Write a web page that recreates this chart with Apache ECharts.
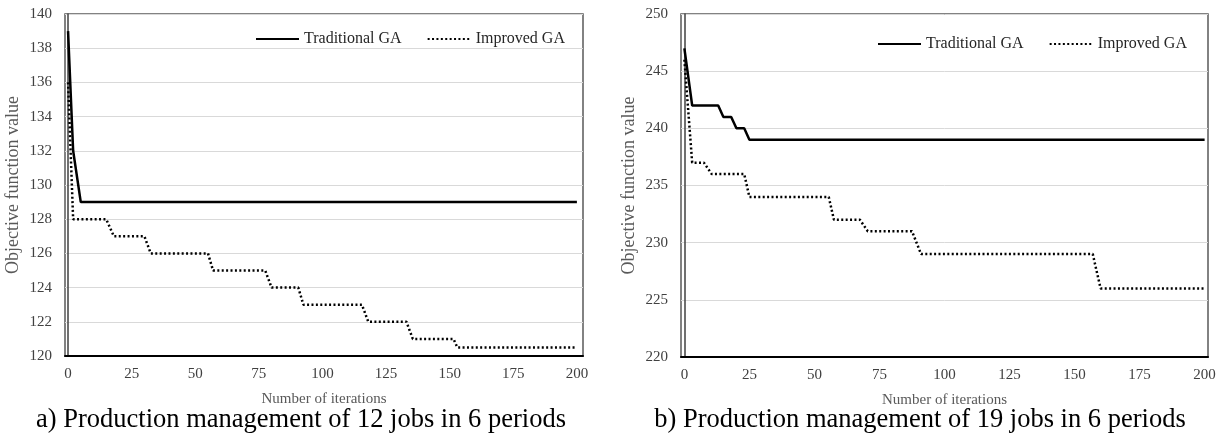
<!DOCTYPE html>
<html>
<head>
<meta charset="utf-8">
<script src="https://cdn.jsdelivr.net/npm/echarts@6/dist/echarts.min.js"></script>
<style>
html,body{margin:0;padding:0;background:#fff;}
#c{width:1224px;height:439px;}
</style>
</head>
<body>
<div id="c"></div>
<script>
// ---- data ----
const seriesNames = ['Traditional GA', 'Improved GA'];
const xTickValues = [0, 25, 50, 75, 100, 125, 150, 175, 200];
const yTicksA = [120, 122, 124, 126, 128, 130, 132, 134, 136, 138, 140];
const yTicksB = [220, 225, 230, 235, 240, 245, 250];
// chart a) 12 jobs in 6 periods  [iteration, objective]
const traditionalA = [[0, 139], [2, 132], [5, 129], [200, 129]];
const improvedA = [[0, 136], [2, 128], [15, 128], [18, 127], [30, 127], [32.5, 126], [55, 126], [57, 125],
  [77.5, 125], [80, 124], [90.5, 124], [92.5, 123], [115.5, 123], [118, 122], [133, 122], [135.5, 121],
  [151.5, 121], [153, 120.5], [200, 120.5]];
// chart b) 19 jobs in 6 periods
const traditionalB = [[0, 247], [3, 242], [13, 242], [15, 241], [18, 241], [20, 240], [23, 240], [25, 239], [200, 239]];
const improvedB = [[0, 246], [3, 237], [7.5, 237], [10.5, 236], [23, 236], [25, 234], [55.5, 234], [57.5, 232],
  [67.5, 232], [70.5, 231], [87.5, 231], [91, 229], [157, 229], [160, 226], [200, 226]];
const captions = ['a) Production management of 12 jobs in 6 periods', 'b) Production management of 19 jobs in 6 periods'];
const xAxisTitle = 'Number of iterations';
const yAxisTitle = 'Objective function value';

// ---- styles ----
const FONT = 'Liberation Serif, Times New Roman, serif';
const solidStyle = { color: '#000', width: 2.5, type: 'solid' };
const dotStyle = { color: '#000', width: 2.5, type: [2, 2.4], cap: 'butt' };

function xAxisCfg(gi, min, max) {
  return {
    type: 'value', gridIndex: gi, min: min, max: max,
    name: xAxisTitle, nameLocation: 'middle', nameGap: 36,
    nameTextStyle: { fontFamily: FONT, fontSize: 15, color: '#595959' },
    axisLine: { show: true, onZero: false, lineStyle: { color: '#000', width: 2 } },
    axisTick: { show: false },
    splitLine: { show: false },
    axisLabel: { customValues: xTickValues, fontFamily: FONT, fontSize: 15, color: '#404040', margin: 11 }
  };
}
function yAxisCfg(gi, ticks, interval) {
  return {
    type: 'value', gridIndex: gi, min: ticks[0], max: ticks[ticks.length - 1], interval: interval,
    name: yAxisTitle, nameLocation: 'middle', nameGap: 43, nameRotate: 90,
    nameTextStyle: { fontFamily: FONT, fontSize: 18, color: '#595959' },
    axisLine: { show: true, lineStyle: { color: '#404040', width: 1.5 } },
    axisTick: { show: false },
    splitLine: { show: true, lineStyle: { color: '#d9d9d9', width: 1 } },
    axisLabel: { fontFamily: FONT, fontSize: 15, color: '#404040', margin: 13 }
  };
}
function legendCfg(left, top) {
  return {
    left: left, top: top, padding: 0, itemWidth: 43, itemHeight: 10, itemGap: 25,
    data: seriesNames,
    itemStyle: { opacity: 0 },
    textStyle: { fontFamily: FONT, fontSize: 16, color: '#262626' },
    selectedMode: false
  };
}
function lineSeries(name, data, gi, style) {
  return {
    name: name, type: 'line', data: data, xAxisIndex: gi, yAxisIndex: gi,
    symbol: 'none', showSymbol: false, itemStyle: { color: '#000' },
    lineStyle: style, z: name === seriesNames[0] ? 3 : 2
  };
}

const chart = echarts.init(document.getElementById('c'), null, { renderer: 'canvas' });
chart.setOption({
  animation: false,
  backgroundColor: '#fff',
  grid: [
    { left: 65, top: 14, width: 518, height: 342, show: true, borderColor: '#595959', borderWidth: 1.5, backgroundColor: 'transparent' },
    { left: 681, top: 14, width: 527, height: 343, show: true, borderColor: '#595959', borderWidth: 1.5, backgroundColor: 'transparent' }
  ],
  xAxis: [xAxisCfg(0, -1.2, 202.4), xAxisCfg(1, -1.3, 201.3)],
  yAxis: [yAxisCfg(0, yTicksA, 2), yAxisCfg(1, yTicksB, 5)],
  legend: [legendCfg(255, 31), legendCfg(877, 36)],
  series: [
    lineSeries(seriesNames[0], traditionalA, 0, solidStyle),
    lineSeries(seriesNames[1], improvedA, 0, dotStyle),
    lineSeries(seriesNames[0], traditionalB, 1, solidStyle),
    lineSeries(seriesNames[1], improvedB, 1, dotStyle)
  ],
  graphic: [
    { type: 'text', x: 301, y: 420, style: { text: captions[0], font: '26.5px ' + FONT, fill: '#000', textAlign: 'center', textVerticalAlign: 'middle' } },
    { type: 'text', x: 920, y: 420, style: { text: captions[1], font: '26.5px ' + FONT, fill: '#000', textAlign: 'center', textVerticalAlign: 'middle' } }
  ]
});
</script>
</body>
</html>
